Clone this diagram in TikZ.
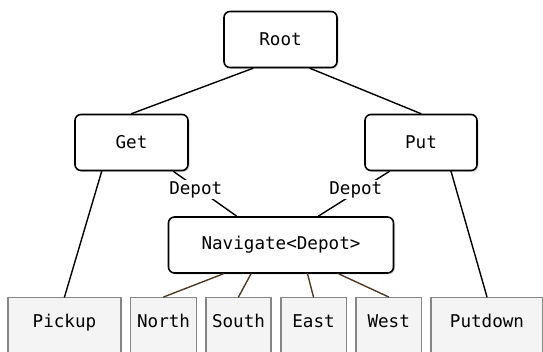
\documentclass[tikz,border=0pt]{standalone}
\usepackage{fontspec}
\setmonofont{DejaVu Sans Mono}
\usetikzlibrary{shadows}
\definecolor{leafgray}{HTML}{F4F4F4}
\definecolor{leafedge}{HTML}{858585}
\definecolor{navbrown}{HTML}{4E3A24}
\begin{document}
\begin{tikzpicture}[x=1pt, y=1pt, font=\ttfamily\fontsize{17.6}{19}\selectfont, line join=round, line cap=round,
	task/.style={draw, line width=1.6pt, rounded corners=6pt, fill=white, minimum height=56pt, inner sep=0pt,
		drop shadow={shadow xshift=1.5pt, shadow yshift=-1.5pt, opacity=0.3}},
	leaf/.style={draw=leafedge, fill=leafgray, line width=1.5pt, anchor=north, inner sep=0pt,
		text height=30pt, text depth=30pt},
	link/.style={line width=1.4pt},
	navlink/.style={navbrown, line width=1.4pt},
	arg/.style={fill=white, inner sep=1pt}]
	\useasboundingbox (0,0) rectangle (543,352);
	\clip (0,0) rectangle (543,352);
	% compound tasks
	\node[task, minimum width=113pt] (root) at (280.5,312.5) {Root};
	\node[task, minimum width=113pt] (get) at (131.5,209.5) {Get};
	\node[task, minimum width=112pt] (put) at (421,209.5) {Put};
	\node[task, minimum width=225pt] (nav) at (281,107) {Navigate<Depot>};
	% primitive tasks
	\node[leaf, minimum width=113pt] (pickup) at (64.5,55) {Pickup};
	\node[leaf, minimum width=66pt] (north) at (163.6,55) {North};
	\node[leaf, minimum width=65pt] (south) at (238.5,55) {South};
	\node[leaf, minimum width=65.5pt] (east) at (313.5,55) {East};
	\node[leaf, minimum width=65.5pt] (west) at (388.7,55) {West};
	\node[leaf, minimum width=112pt] (putdown) at (487,55) {Putdown};
	% links
	\draw[link] ([xshift=-27.5pt]root.south) -- (get.north);
	\draw[link] ([xshift=29.5pt]root.south) -- (put.north);
	\draw[link] ([xshift=-29.8pt]get.south) -- (pickup.north);
	\draw[link] ([xshift=30pt]put.south) -- (putdown.north);
	\draw[link] ([xshift=41.8pt]get.south) -- node[arg, pos=0.41, xshift=-3.5pt]{Depot} ([xshift=-44.3pt]nav.north);
	\draw[link] ([xshift=-31.5pt]put.south) -- node[arg, pos=0.41, xshift=-4.5pt]{Depot} ([xshift=37.3pt]nav.north);
	\draw[navlink] ([xshift=-57.7pt]nav.south) -- (north.north);
	\draw[navlink] ([xshift=-30pt]nav.south) -- (south.north);
	\draw[navlink] ([xshift=26.5pt]nav.south) -- (east.north);
	\draw[navlink] ([xshift=57.6pt]nav.south) -- (west.north);
\end{tikzpicture}
\end{document}
